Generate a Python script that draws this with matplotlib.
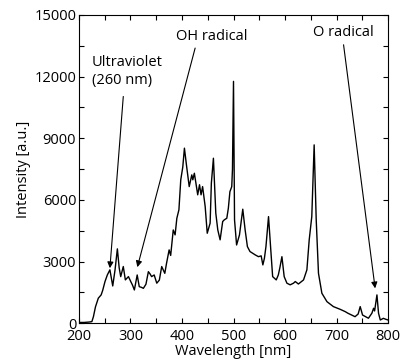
import matplotlib
matplotlib.use("Agg")
import matplotlib.pyplot as plt
from matplotlib.ticker import MultipleLocator

plt.rcParams['font.family'] = ['Open Sans', 'DejaVu Sans']

# spectrum
wavelength = [200, 210, 220, 225, 228, 232, 237.5, 243, 246, 250.5, 255, 260, 265.5,
              270, 274.5, 278, 281, 286, 290, 296, 300.5, 304, 307.5, 313, 317, 321,
              325, 330, 334.7, 338, 341, 346, 351, 356, 360.6, 366.6, 370, 375, 378,
              383, 386.6, 390, 394, 397.6, 401.5, 404.7, 409, 414, 419, 421, 424, 427,
              430.5, 434, 437, 440, 445, 449, 454.6, 457, 461, 465.6, 469.5, 474, 479,
              482, 487, 490, 493, 496.6, 498, 500, 502, 506, 511.6, 518, 522.6, 527,
              532, 542, 548.5, 553.7, 557, 560, 563, 568, 572.4, 576, 583, 587, 590,
              594, 598.4, 603.7, 610, 616.5, 620, 626, 636, 642.5, 647, 652, 656.6,
              660.6, 665, 671.6, 681.5, 694, 707, 717, 722, 736, 742, 746, 750.6, 762,
              768.7, 772, 774, 778.5, 781.6, 785, 791, 795, 800]
intensity = [40, 40, 60, 80, 320, 800, 1220, 1380, 1600, 2030, 2350, 2600, 1815,
             2600, 3620, 2700, 2270, 2760, 2110, 2270, 2030, 1850, 1620, 2350, 1780, 1750,
             1700, 1900, 2510, 2400, 2270, 2350, 1950, 2100, 2760, 2430, 2920, 3570, 3300,
             4540, 4300, 5110, 5520, 6980, 7600, 8520, 7630, 6650, 7220, 6980, 7300, 6820,
             6250, 6740, 6250, 6650, 5680, 4380, 4870, 6820, 8030, 5360, 4540, 4060, 4950,
             5030, 5110, 5600, 6400, 6650, 7500, 11770, 5030, 3810, 4300, 5550, 4540, 3730,
             3490, 3330, 3240, 3280, 2840, 3160, 3730, 5190, 3570, 2270, 2110, 2350, 2700,
             3240, 2270, 1950, 1870, 1950, 2030, 1910, 2110, 2600, 4060, 5190, 8680,
             5030, 2430, 1460, 1050, 810, 680, 565, 490, 320, 450, 810, 400, 245,
             490, 730, 600, 1380, 490, 160, 240, 200, 160]

# annotations: (text, text position, arrow start, arrow tip)
labels = ["Ultraviolet\n(260 nm)", "OH radical", "O radical"]
text_pos = [(225, 12250), (458, 13950), (713, 14150)]
arrow_from = [(286, 11035), (425.5, 13390), (713.7, 13550)]
arrow_to = [(260, 2680), (313.3, 2730), (775, 1700)]
text_align = ["left", "center", "center"]

fig = plt.figure(figsize=(4.01, 3.62), dpi=100)
ax = fig.add_axes([0.197, 0.107, 0.7706, 0.8516])

ax.plot(wavelength, intensity, color="black", lw=1.0)

for lab, tp, a0, a1, ha in zip(labels, text_pos, arrow_from, arrow_to, text_align):
    ax.text(tp[0], tp[1], lab, ha=ha, va="center", fontsize=10.5, linespacing=1.2)
    ax.annotate("", xy=a1, xytext=a0,
                arrowprops=dict(arrowstyle="-|>", color="black", lw=0.8,
                                mutation_scale=9, shrinkA=0, shrinkB=0))

ax.set_xlim(200, 800)
ax.set_ylim(0, 15000)
ax.xaxis.set_major_locator(MultipleLocator(100))
ax.xaxis.set_minor_locator(MultipleLocator(50))
ax.yaxis.set_major_locator(MultipleLocator(3000))
ax.yaxis.set_minor_locator(MultipleLocator(1500))
ax.tick_params(which="both", direction="in", top=True, right=True,
               length=3.5, width=0.8, labelsize=10.5)
ax.tick_params(axis="x", pad=4)
ax.tick_params(axis="y", pad=2)
for s in ax.spines.values():
    s.set_linewidth(0.8)

ax.set_xlabel("Wavelength [nm]", fontsize=10.5, labelpad=0)
ax.set_ylabel("Intensity [a.u.]", fontsize=10.5, labelpad=2)

fig.savefig("out.png", dpi=100)
